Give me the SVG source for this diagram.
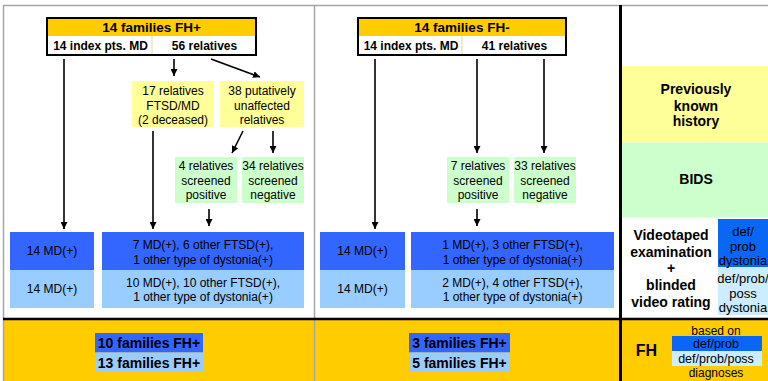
<svg xmlns="http://www.w3.org/2000/svg" width="768" height="381" viewBox="0 0 768 381">
  <style>
    text { font-family: "Liberation Sans", Arial, sans-serif; fill: #000; text-anchor: middle; }
    .b12 { font-size: 12px; font-weight: bold; }
    .b13 { font-size: 13.5px; font-weight: bold; }
    .b14 { font-size: 14px; font-weight: bold; }
    .r12 { font-size: 12px; }
    .r13 { font-size: 13px; }
    .hdr { fill: #FFCC00; }
    .pale { fill: #FFFF99; }
    .mint { fill: #CCFFCC; }
    .dark { fill: #3366FF; }
    .light { fill: #99CCFF; }
    .dark2 { fill: #0A66F5; }
    .light2 { fill: #CCECFF; }
    .frame { fill: none; stroke: #000; stroke-width: 2; }
    .grid { stroke: #A6A6A6; stroke-width: 1.5; fill: none; }
    .conn line { stroke: #000; stroke-width: 1.6; marker-end: url(#arrow); }
  </style>
  <defs>
    <marker id="arrow" viewBox="0 0 10 10" refX="10" refY="5" markerUnits="userSpaceOnUse" markerWidth="7" markerHeight="7" orient="auto">
      <path d="M0,0 L10,5 L0,10 z" fill="#000"/>
    </marker>
  </defs>

  <rect width="768" height="381" fill="#fff"/>

  <!-- bottom result band -->
  <rect x="4" y="320" width="764" height="61" fill="#FFCC00"/>

  <!-- panel grid -->
  <g id="grid">
    <line class="grid" x1="3" y1="5.5" x2="768" y2="5.5"/>
    <line class="grid" x1="3.5" y1="5" x2="3.5" y2="381"/>
    <line class="grid" x1="314.5" y1="5" x2="314.5" y2="381"/>
    <line x1="3" y1="319" x2="768" y2="319" stroke="#000" stroke-width="2.5"/>
    <line x1="620.5" y1="5" x2="620.5" y2="381" stroke="#000" stroke-width="3"/>
  </g>

  <!-- FH+ column -->
  <g id="fhpos-head">
    <rect x="47" y="18" width="209" height="18" class="hdr"/>
    <rect x="47" y="36" width="209" height="19" fill="#fff"/>
    <line x1="152" y1="36" x2="152" y2="55" stroke="#DDDD99" stroke-width="1"/>
    <rect x="47" y="18" width="209" height="37" class="frame"/>
    <text class="b13" x="151.5" y="31.5">14 families FH+</text>
    <text class="b12" x="100.5" y="50">14 index pts. MD</text>
    <text class="b12" x="204.5" y="50">56 relatives</text>
  </g>
  <g id="fhpos-ftsd">
    <rect x="132" y="81" width="82" height="46" class="pale"/>
    <text class="r12" x="173" y="95.3">17 relatives</text>
    <text class="r12" x="173" y="109.5">FTSD/MD</text>
    <text class="r12" x="173" y="124">(2 deceased)</text>
  </g>
  <g id="fhpos-unaffected">
    <rect x="220" y="81" width="84" height="46" class="pale"/>
    <text class="r12" x="262" y="95.3">38 putatively</text>
    <text class="r12" x="262" y="109.5">unaffected</text>
    <text class="r12" x="262" y="124">relatives</text>
  </g>
  <g id="fhpos-positive">
    <rect x="175" y="157" width="62" height="46" class="mint"/>
    <text class="r12" x="206" y="170.3">4 relatives</text>
    <text class="r12" x="206" y="184.5">screened</text>
    <text class="r12" x="206" y="198.5">positive</text>
  </g>
  <g id="fhpos-negative">
    <rect x="242" y="157" width="62" height="46" class="mint"/>
    <text class="r12" x="273" y="170.3">34 relatives</text>
    <text class="r12" x="273" y="184.5">screened</text>
    <text class="r12" x="273" y="198.5">negative</text>
  </g>
  <g id="fhpos-index-result">
    <rect x="10" y="232" width="84" height="38" class="dark"/>
    <rect x="10" y="270" width="84" height="38" class="light"/>
    <text class="r12" x="52" y="255.3">14 MD(+)</text>
    <text class="r12" x="52" y="293">14 MD(+)</text>
  </g>
  <g id="fhpos-relatives-result">
    <rect x="102" y="232" width="202" height="38" class="dark"/>
    <rect x="102" y="270" width="202" height="38" class="light"/>
    <text class="r12" x="203" y="248.6">7 MD(+), 6 other FTSD(+),</text>
    <text class="r12" x="203" y="263.6">1 other type of dystonia(+)</text>
    <text class="r12" x="203" y="287">10 MD(+), 10 other FTSD(+),</text>
    <text class="r12" x="203" y="301">1 other type of dystonia(+)</text>
  </g>
  <g id="fhpos-total">
    <rect x="95" y="333" width="108" height="19.5" class="dark"/>
    <rect x="95" y="352.5" width="108" height="19.5" class="light"/>
    <text class="b14" x="149" y="348">10 families FH+</text>
    <text class="b14" x="149" y="367.5">13 families FH+</text>
  </g>

  <!-- FH- column -->
  <g id="fhneg-head">
    <rect x="358" y="18" width="208" height="18" class="hdr"/>
    <rect x="358" y="36" width="208" height="19" fill="#fff"/>
    <line x1="462" y1="36" x2="462" y2="55" stroke="#DDDD99" stroke-width="1"/>
    <rect x="358" y="18" width="208" height="37" class="frame"/>
    <text class="b13" x="462" y="31.5">14 families FH-</text>
    <text class="b12" x="411" y="50">14 index pts. MD</text>
    <text class="b12" x="514.5" y="50">41 relatives</text>
  </g>
  <g id="fhneg-positive">
    <rect x="447" y="157" width="62" height="46" class="mint"/>
    <text class="r12" x="478" y="170.3">7 relatives</text>
    <text class="r12" x="478" y="184.5">screened</text>
    <text class="r12" x="478" y="198.5">positive</text>
  </g>
  <g id="fhneg-negative">
    <rect x="514" y="157" width="62" height="46" class="mint"/>
    <text class="r12" x="545" y="170.3">33 relatives</text>
    <text class="r12" x="545" y="184.5">screened</text>
    <text class="r12" x="545" y="198.5">negative</text>
  </g>
  <g id="fhneg-index-result">
    <rect x="320" y="232" width="85" height="38" class="dark"/>
    <rect x="320" y="270" width="85" height="38" class="light"/>
    <text class="r12" x="362.5" y="255.3">14 MD(+)</text>
    <text class="r12" x="362.5" y="293">14 MD(+)</text>
  </g>
  <g id="fhneg-relatives-result">
    <rect x="411" y="232" width="203" height="38" class="dark"/>
    <rect x="411" y="270" width="203" height="38" class="light"/>
    <text class="r12" x="512.5" y="248.6">1 MD(+), 3 other FTSD(+),</text>
    <text class="r12" x="512.5" y="263.6">1 other type of dystonia(+)</text>
    <text class="r12" x="512.5" y="287">2 MD(+), 4 other FTSD(+),</text>
    <text class="r12" x="512.5" y="301">1 other type of dystonia(+)</text>
  </g>
  <g id="fhneg-total">
    <rect x="409" y="333" width="101" height="19.5" class="dark"/>
    <rect x="409" y="352.5" width="101" height="19.5" class="light"/>
    <text class="b14" x="459.5" y="348">3 families FH+</text>
    <text class="b14" x="459.5" y="367.5">5 families FH+</text>
  </g>

  <!-- legend column -->
  <g id="legend-history">
    <rect x="622" y="66" width="146" height="76.5" class="pale"/>
    <text class="b14" x="696" y="94.2">Previously</text>
    <text class="b14" x="696" y="111">known</text>
    <text class="b14" x="696" y="126">history</text>
  </g>
  <g id="legend-bids">
    <rect x="622" y="142.5" width="146" height="75" class="mint"/>
    <text class="b14" x="696" y="184.3">BIDS</text>
  </g>
  <g id="legend-video">
    <text class="b14" x="671" y="240">Videotaped</text>
    <text class="b14" x="671" y="256.7">examination</text>
    <text class="b14" x="671" y="273">+</text>
    <text class="b14" x="671" y="290">blinded</text>
    <text class="b14" x="671" y="306.5">video rating</text>
  </g>
  <g id="legend-ratings">
    <rect x="718" y="219" width="50" height="48" class="dark2"/>
    <rect x="718" y="267" width="50" height="48" class="light2"/>
    <text class="r13" x="743" y="236.3">def/</text>
    <text class="r13" x="743" y="250.6">prob</text>
    <text class="r13" x="743" y="264.6">dystonia</text>
    <text class="r13" x="743" y="283">def/prob/</text>
    <text class="r13" x="743" y="298">poss</text>
    <text class="r13" x="743" y="312">dystonia</text>
  </g>
  <g id="legend-fh">
    <text x="646.5" y="355.7" style="font-size:16px;font-weight:bold">FH</text>
    <rect x="672" y="336" width="90" height="15" class="dark2"/>
    <rect x="672" y="351" width="90" height="15" class="light2"/>
    <text class="r12" x="716" y="335">based on</text>
    <text class="r12" x="716" y="347.8" style="font-size:12.5px">def/prob</text>
    <text class="r12" x="716" y="363.3" style="font-size:12.5px">def/prob/poss</text>
    <text class="r12" x="716" y="377">diagnoses</text>
  </g>

  <!-- connectors -->
  <g id="connectors" class="conn">
    <line x1="64" y1="59" x2="64" y2="229"/>
    <line x1="174" y1="59" x2="174" y2="76"/>
    <line x1="211" y1="59" x2="260" y2="77"/>
    <line x1="153" y1="131" x2="153" y2="229"/>
    <line x1="243" y1="131" x2="232" y2="153"/>
    <line x1="273" y1="131" x2="273" y2="153"/>
    <line x1="209" y1="209" x2="209" y2="226"/>
    <line x1="375" y1="59" x2="375" y2="229"/>
    <line x1="477" y1="59" x2="477" y2="153"/>
    <line x1="544" y1="59" x2="544" y2="153"/>
    <line x1="477" y1="209" x2="477" y2="226"/>
  </g>
</svg>
